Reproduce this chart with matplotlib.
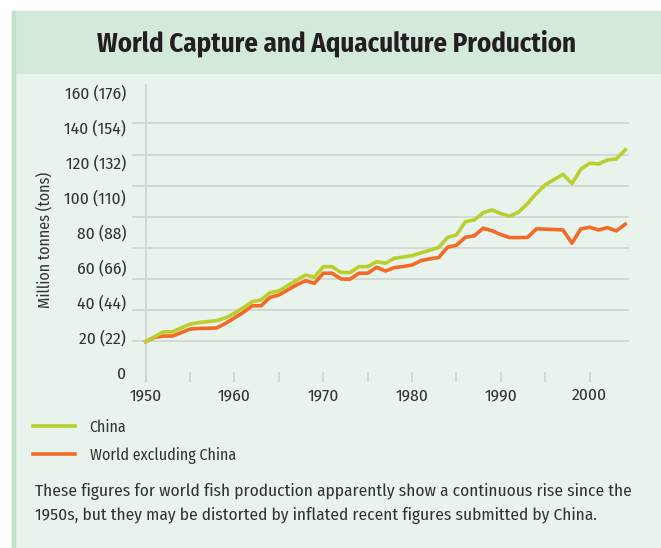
import matplotlib
matplotlib.use("Agg")
import matplotlib.pyplot as plt
from matplotlib import font_manager as fm
from matplotlib.patches import Rectangle
import numpy as np

# ---- data (million tonnes) ----
years = list(range(1950, 2005))

china = [19.7, 22.9, 26.0, 26.0, 28.5, 31.0, 32.0, 32.6, 33.2, 35.0,
         38.0, 41.5, 45.4, 46.5, 51.2, 52.3, 55.8, 59.2, 62.6, 61.1,
         67.9, 67.9, 64.2, 64.1, 67.9, 67.9, 71.1, 70.1, 73.3, 74.1,
         75.0, 76.8, 78.5, 80.3, 86.7, 88.3, 96.8, 97.9, 102.6, 104.4,
         102.0, 100.4, 103.0, 108.5, 115.0, 120.5, 124.0, 127.3, 121.3, 130.5,
         134.4, 134.0, 136.5, 137.2, 143.0]

world_ex_china = [19.7, 22.5, 23.3, 23.3, 25.5, 27.8, 28.2, 28.3, 28.5, 31.5,
                  35.0, 38.5, 42.8, 42.8, 48.2, 49.7, 53.0, 56.2, 58.9, 57.2,
                  63.7, 63.7, 60.0, 59.8, 63.7, 63.7, 67.5, 65.1, 67.3, 68.0,
                  69.0, 71.8, 72.9, 73.8, 80.4, 81.7, 86.8, 87.7, 92.6, 91.0,
                  88.5, 86.6, 86.6, 86.7, 92.2, 92.0, 91.8, 91.5, 83.0, 92.2,
                  93.2, 91.5, 93.0, 90.9, 95.2]

ytick_labels = ["0", "20 (22)", "40 (44)", "60 (66)", "80 (88)",
                "100 (110)", "120 (132)", "140 (154)", "160 (176)"]
series_labels = ["China", "World excluding China"]

title = "World Capture and Aquaculture Production"
caption = ("These figures for world fish production apparently show a continuous rise since the\n"
           "1950s, but they may be distorted by inflated recent figures submitted by China.")

# ---- colours ----
LIME = "#b9cf2e"
ORANGE = "#f26a26"
BAND = "#d3eadb"
BODY = "#e8f3eb"
BORDER = "#c2e1cb"
GRID = "#d2d4d3"
TEXT = "#333333"

# narrow humanist face, close to the original's condensed sans
installed = {f.name for f in fm.fontManager.ttflist}
FONT = next((n for n in ["Fira Sans Condensed", "PT Sans Narrow", "Roboto Condensed",
                         "Asap Condensed", "Archivo Narrow"] if n in installed), "DejaVu Sans")
plt.rcParams['font.family'] = [FONT, 'DejaVu Sans']

W, H = 661, 548
fig = plt.figure(figsize=(W / 100, H / 100), dpi=100)
fig.patch.set_facecolor("white")

# panel background, title band and left border
fig.patches.append(Rectangle((12 / W, 0), 1, 1 - 11 / H, transform=fig.transFigure,
                             color=BODY, zorder=-3))
fig.patches.append(Rectangle((12 / W, 1 - 73 / H), 1, 62 / H, transform=fig.transFigure,
                             color=BAND, zorder=-2))
fig.patches.append(Rectangle((12 / W, 0), 2.5 / W, 1 - 11 / H, transform=fig.transFigure,
                             color=BORDER, zorder=-1))

fig.text(337 / W, 1 - 43 / H, title, ha="center", va="center",
         fontsize=19.3, fontweight="bold", color="#231f20")

# ---- plot area ----
ax = fig.add_axes([133 / W, (H - 372.3) / H, 494.7 / W, 280 / H])
ax.set_facecolor("none")
ax.set_xlim(1948.57, 2004.28)
ax.set_ylim(0, 180)
for s in ax.spines.values():
    s.set_visible(False)

# labels spread evenly over the gridded range, as in the original
ax.set_yticks(np.linspace(0, 180, len(ytick_labels)))
ax.set_yticklabels(ytick_labels)
ax.set_yticks(range(0, 181, 20), minor=True)
ax.tick_params(axis="y", which="both", length=0, pad=5, labelsize=12.5, labelcolor=TEXT)
ax.grid(False)
ax.grid(axis="y", which="minor", color=GRID, lw=1.3)
for t in ax.yaxis.get_minor_ticks():
    t.gridline.set_clip_on(False)

ax.set_xticks(range(1950, 2005, 5))
ax.set_xticklabels([str(y) if y % 10 == 0 else "" for y in range(1950, 2005, 5)])
ax.tick_params(axis="x", direction="out", length=7, width=1.3, color=GRID,
               pad=4, labelsize=12.5, labelcolor=TEXT)

ax.axvline(1950, ymin=-0.035, ymax=1.025, color=GRID, lw=1.3, clip_on=False, zorder=1)

l2, = ax.plot(years, world_ex_china, color=ORANGE, lw=2.6, clip_on=False, zorder=3)
l1, = ax.plot(years, china, color=LIME, lw=2.6, clip_on=False, zorder=4)

fig.text(45 / W, 1 - 240 / H, "Million tonnes (tons)", rotation=90,
         ha="center", va="center", fontsize=11.5, color=TEXT)

ax.legend([l1, l2], series_labels, loc="upper left",
          bbox_to_anchor=(33 / W, 1 - 419 / H), bbox_transform=fig.transFigure,
          frameon=False, borderpad=0, borderaxespad=0, handlelength=2.6,
          handletextpad=0.95, labelspacing=0.75, fontsize=11.5, labelcolor=TEXT)

fig.text(35 / W, 1 - 483 / H, caption, ha="left", va="top",
         fontsize=12.5, linespacing=1.5, color=TEXT)

fig.savefig("out.png", dpi=100)
